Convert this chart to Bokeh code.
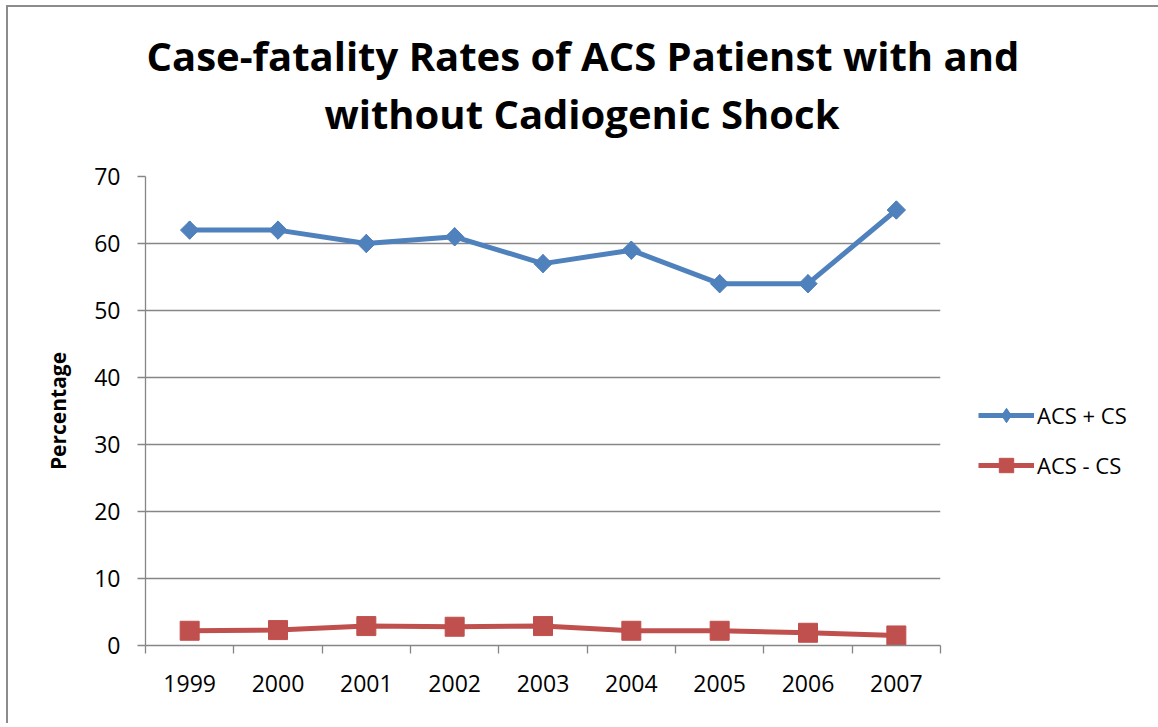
from bokeh.plotting import figure
from bokeh.models import (Range1d, FixedTicker, Title, Legend, LegendItem)
from bokeh.embed import file_html
from bokeh.resources import INLINE

years = ["1999", "2000", "2001", "2002", "2003", "2004", "2005", "2006", "2007"]
acs_plus_cs = [62, 62, 60, 61, 57, 59, 54, 54, 65]
acs_minus_cs = [2.2, 2.3, 2.9, 2.8, 2.9, 2.2, 2.2, 1.9, 1.5]
y_ticks = [0, 10, 20, 30, 40, 50, 60, 70]
title_lines = ["Case-fatality Rates of ACS Patienst with and", "without Cadiogenic Shock"]

xs = list(range(1, len(years) + 1))
FONT = "Open Sans"
GRAY = "#868686"
BLUE = "#4F81BD"
RED = "#C0504D"

p = figure(frame_width=795, frame_height=469, output_backend="svg", toolbar_location=None,
           x_range=Range1d(0.5, len(years) + 0.5), y_range=Range1d(0, 70),
           min_border_left=137, min_border_right=214, min_border_top=169,
           min_border_bottom=78)
p.outline_line_color = None
p.background_fill_color = "white"
p.border_fill_color = "white"
p.styles = {"margin-left": "6px", "margin-top": "5px",
            "border-top": "2px solid #8c8c8c", "border-left": "2px solid #8c8c8c"}

# title (two lines); first added sits closest to the frame
t2 = Title(text=title_lines[1], align="left", offset=179, text_font=FONT,
           text_font_size="40px", text_font_style="bold", text_color="black",
           standoff=72)
t1 = Title(text=title_lines[0], align="left", offset=1, text_font=FONT,
           text_font_size="40px", text_font_style="bold", text_color="black",
           standoff=-71)
p.add_layout(t2, "above")
p.add_layout(t1, "above")

# axes
p.xgrid.visible = False
p.ygrid.grid_line_color = GRAY
p.ygrid.grid_line_width = 1.3
p.ygrid.ticker = FixedTicker(ticks=y_ticks)

xa = p.xaxis[0]
xa.ticker = FixedTicker(ticks=xs, minor_ticks=[x - 0.5 for x in xs] + [xs[-1] + 0.5])
xa.major_label_overrides = {x: y for x, y in zip(xs, years)}
xa.major_tick_out = 0
xa.major_tick_in = 0
xa.minor_tick_out = 8
xa.minor_tick_in = 0
xa.minor_tick_line_color = GRAY
xa.minor_tick_line_width = 1.3
xa.axis_line_color = GRAY
xa.axis_line_width = 1.3
xa.major_label_text_font = FONT
xa.major_label_text_font_size = "23px"
xa.major_label_text_color = "black"
xa.major_label_standoff = 21

ya = p.yaxis[0]
ya.ticker = FixedTicker(ticks=y_ticks)
ya.major_tick_out = 8
ya.major_tick_in = 0
ya.minor_tick_out = 0
ya.minor_tick_in = 0
ya.major_tick_line_color = GRAY
ya.major_tick_line_width = 1.3
ya.axis_line_color = GRAY
ya.axis_line_width = 1.3
ya.major_label_text_font = FONT
ya.major_label_text_font_size = "23px"
ya.major_label_text_color = "black"
ya.major_label_standoff = 17
ya.axis_label = "Percentage"
ya.axis_label_text_font = FONT
ya.axis_label_text_font_size = "21px"
ya.axis_label_text_font_style = "bold"
ya.axis_label_text_color = "black"
ya.axis_label_standoff = 19

# series
l1 = p.line(xs, acs_plus_cs, line_color=BLUE, line_width=5)
d1 = p.scatter(xs, acs_plus_cs, marker="diamond", size=18,
               fill_color=BLUE, line_color=BLUE)
m1 = p.scatter(xs, acs_plus_cs, marker="square", angle=0.785398, size=13,
               fill_color=BLUE, line_color=BLUE)
l2 = p.line(xs, acs_minus_cs, line_color=RED, line_width=5)
m2 = p.scatter(xs, acs_minus_cs, marker="square", size=19,
               fill_color=RED, line_color=RED)

legend = Legend(items=[LegendItem(label="ACS + CS", renderers=[l1, d1]),
                       LegendItem(label="ACS - CS", renderers=[l2, m2])],
                location=(38, 162), border_line_color=None,
                background_fill_alpha=0, label_text_font=FONT,
                label_text_font_size="22px", label_text_color="black",
                glyph_width=56, glyph_height=36, label_standoff=3,
                spacing=14, margin=0, padding=0)
p.add_layout(legend, "right")

open("out.html", "w").write(file_html(p, INLINE))
